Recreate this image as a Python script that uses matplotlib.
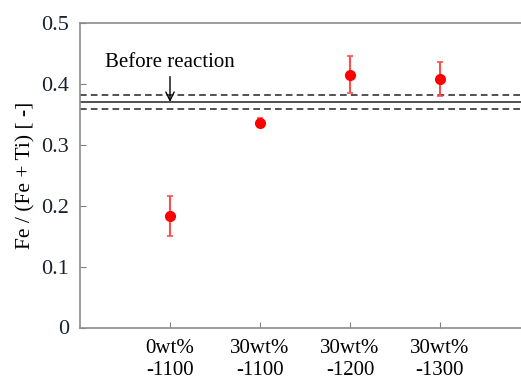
import matplotlib
matplotlib.use("Agg")
import matplotlib.pyplot as plt

categories = ["0wt%\n-1100", "30wt%\n-1100", "30wt%\n-1200", "30wt%\n-1300"]
values = [0.183, 0.336, 0.415, 0.408]
errors = [0.033, 0.007, 0.030, 0.028]
before_mean = 0.370
before_upper = 0.382
before_lower = 0.358
yticks = [0, 0.1, 0.2, 0.3, 0.4, 0.5]
ytick_labels = ["0", "0.1", "0.2", "0.3", "0.4", "0.5"]

plt.rcParams['font.family'] = ['Liberation Serif', 'DejaVu Serif']

fig = plt.figure(figsize=(5.21, 3.81), dpi=100)
ax = fig.add_axes([80/521, 1-327.5/381, 1-80/521, (327.5-22.7)/381])

x = list(range(1, len(categories) + 1))
ax.errorbar(x, values, yerr=errors, fmt='o', color='#ff0000', ecolor='#ff4d4d',
            elinewidth=1.5, capsize=2.5, capthick=1.2, markersize=7, zorder=3)

ax.axhline(before_mean, color='#333333', lw=1.2, zorder=2)
ax.axhline(before_upper, color='#333333', lw=1.2, ls=(0, (4, 2.5)), zorder=2)
ax.axhline(before_lower, color='#333333', lw=1.2, ls=(0, (4, 2.5)), zorder=2)

ax.annotate("Before reaction", xy=(1, before_mean), xytext=(1, 0.434),
            ha='center', va='center', fontsize=15,
            arrowprops=dict(arrowstyle='->', color='black', lw=1.0,
                            shrinkA=1, shrinkB=0))

ax.set_xlim(0, 4.9)
ax.set_ylim(0, 0.5)
ax.set_xticks(x)
ax.set_xticklabels(categories, fontsize=15, linespacing=1.25)
ax.set_yticks(yticks)
ax.set_yticklabels(ytick_labels, fontsize=16, color='#1a2230')
ax.tick_params(direction='in', length=4, color='#808080', width=0.8, pad=8)
ax.tick_params(axis='x', pad=8)
ax.set_ylabel("Fe / (Fe + Ti) [ -]", fontsize=15.5, labelpad=4)

for s in ['left', 'bottom', 'top']:
    ax.spines[s].set_color('#8c8c8c')
    ax.spines[s].set_linewidth(1.2)
ax.spines['right'].set_visible(False)

fig.savefig("out.png", dpi=100)
